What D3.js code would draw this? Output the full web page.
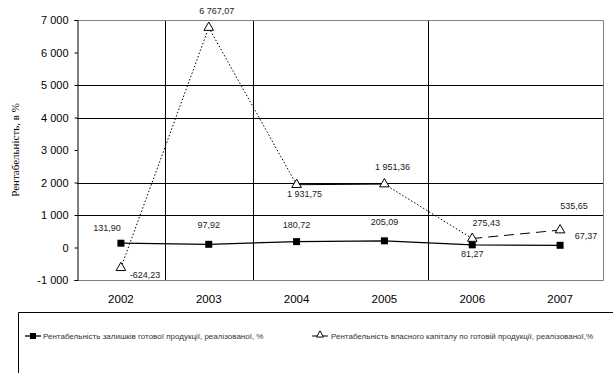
<!DOCTYPE html>
<html>
<head>
<meta charset="utf-8">
<script src="https://cdn.jsdelivr.net/npm/d3@7"></script>
<style>
  body { margin: 0; background: #fff; }
  text { font-family: "Liberation Sans", Arial, sans-serif; }
</style>
</head>
<body>
<div id="chart"></div>
<script>
// data
const years = ["2002", "2003", "2004", "2005", "2006", "2007"];
const sales = [131.90, 97.92, 180.72, 205.09, 81.27, 67.37];
const capital = [-624.23, 6767.07, 1931.75, 1951.36, 275.43, 535.65];
const salesLabels = ["131,90", "97,92", "180,72", "205,09", "81,27", "67,37"];
const capitalLabels = ["-624,23", "6 767,07", "1 931,75", "1 951,36", "275,43", "535,65"];
const yTicks = [-1000, 0, 1000, 2000, 3000, 4000, 5000, 6000, 7000];
const hGrid = [1000, 2000, 4000, 5000];
const seriesNames = [
  "Рентабельність залишків готової продукції, реалізованої, %",
  "Рентабельність власного капіталу по готовій продукції, реалізованої,%"
];

// label offsets (dx, dy from point)
const salesOff = [[-14, -12], [0, -16], [0, -14], [0, -16], [0, 12], [26, -6]];
const capOff = [[24, 10], [8, -14], [8, 12], [8, -14], [14, -13], [14, -21]];

const W = 613, H = 373;
const margin = {top: 20, right: 9, bottom: 93, left: 77};

const svg = d3.select("#chart").append("svg")
  .attr("width", W).attr("height", H);

const x = d3.scaleBand().domain(years).range([margin.left, W - margin.right]);
const y = d3.scaleLinear().domain([-1000, 7000]).range([H - margin.bottom, margin.top]);
const cx = d => x(d) + x.bandwidth() / 2;

// horizontal gridlines
svg.append("g").selectAll("line").data(hGrid).join("line")
  .attr("x1", margin.left).attr("x2", W - margin.right)
  .attr("y1", d => Math.round(y(d)) + 0.5).attr("y2", d => Math.round(y(d)) + 0.5)
  .attr("stroke", "#000").attr("stroke-width", 1);

// vertical gridlines (only some category borders are drawn)
const vGrid = [years[1], years[2], years[4]];
svg.append("g").selectAll("line").data(vGrid).join("line")
  .attr("x1", d => Math.round(x(d)) + 0.5).attr("x2", d => Math.round(x(d)) + 0.5)
  .attr("y1", y(7000)).attr("y2", y(-1000))
  .attr("stroke", "#000").attr("stroke-width", 1);

// plot border (gray top/right/bottom)
svg.append("path")
  .attr("d", `M${margin.left},${Math.round(y(7000)) + 0.5}H${W - margin.right - 0.5}V${Math.round(y(-1000)) + 0.5}H${margin.left}`)
  .attr("fill", "none").attr("stroke", "#808080");

// y axis
const yAxis = svg.append("g")
  .attr("transform", `translate(${margin.left + 0.5},0)`)
  .call(d3.axisLeft(y).tickValues(yTicks).tickSize(3)
    .tickFormat(d => d3.format(",")(d).replace(",", " ").replace("−", "-")));
yAxis.select(".domain").attr("stroke", "#000");
yAxis.selectAll("text").attr("font-size", 11).attr("fill", "#000").attr("x", -9);

// x axis labels
svg.append("g").selectAll("text").data(years).join("text")
  .attr("x", d => cx(d)).attr("y", H - margin.bottom + 23)
  .attr("text-anchor", "middle").attr("font-size", 11.5)
  .text(d => d);

// y axis title
svg.append("text")
  .attr("transform", `translate(19,${(margin.top + H - margin.bottom) / 2}) rotate(-90)`)
  .attr("text-anchor", "middle")
  .attr("font-size", 11)
  .style("font-family", "'Liberation Serif', 'DejaVu Serif', serif")
  .text("Рентабельність, в %");

// series 1: solid line with squares
const line1 = d3.line().x((d, i) => cx(years[i])).y(d => y(d));
svg.append("path").datum(sales)
  .attr("d", line1).attr("fill", "none").attr("stroke", "#000").attr("stroke-width", 1.3);
svg.append("g").selectAll("rect").data(sales).join("rect")
  .attr("x", (d, i) => cx(years[i]) - 3.5).attr("y", d => y(d) - 3.5)
  .attr("width", 7).attr("height", 7).attr("fill", "#000");

// series 2: dotted line with triangles, drawn segment by segment
const segDash = ["1.5,2", "1.5,2", null, "1.5,2", "10,6"];
const segs = d3.pairs(capital.map((v, i) => [cx(years[i]), y(v)]));
svg.append("g").selectAll("line").data(segs).join("line")
  .attr("x1", d => d[0][0]).attr("y1", d => d[0][1])
  .attr("x2", d => d[1][0]).attr("y2", d => d[1][1])
  .attr("stroke", "#000").attr("stroke-width", 1)
  .attr("stroke-dasharray", (d, i) => segDash[i]);
const tri = d3.symbol().type(d3.symbolTriangle).size(40);
svg.append("g").selectAll("path").data(capital).join("path")
  .attr("d", tri)
  .attr("transform", (d, i) => `translate(${cx(years[i])},${y(d)})`)
  .attr("fill", "#fff").attr("stroke", "#000").attr("stroke-width", 1);

// data labels
svg.append("g").selectAll("text").data(sales).join("text")
  .attr("x", (d, i) => cx(years[i]) + salesOff[i][0])
  .attr("y", (d, i) => y(d) + salesOff[i][1])
  .attr("text-anchor", "middle").attr("font-size", 9).attr("fill", "#222")
  .text((d, i) => salesLabels[i]);
svg.append("g").selectAll("text").data(capital).join("text")
  .attr("x", (d, i) => cx(years[i]) + capOff[i][0])
  .attr("y", (d, i) => y(d) + capOff[i][1])
  .attr("text-anchor", "middle").attr("font-size", 9).attr("fill", "#222")
  .text((d, i) => capitalLabels[i]);

// legend box
svg.append("path")
  .attr("d", `M18.5,${H}V312.5H${W}`)
  .attr("fill", "none").attr("stroke", "#000");

const leg = svg.append("g").attr("transform", "translate(0,336)");
// item 1
leg.append("line").attr("x1", 25).attr("x2", 41).attr("y1", 0).attr("y2", 0)
  .attr("stroke", "#000").attr("stroke-width", 1.3);
leg.append("rect").attr("x", 30).attr("y", -3).attr("width", 6).attr("height", 6).attr("fill", "#000");
leg.append("text").attr("x", 43).attr("y", 3).attr("font-size", 8).attr("fill", "#333")
  .text(seriesNames[0]);
// item 2
leg.append("line").attr("x1", 312).attr("x2", 328).attr("y1", 0).attr("y2", 0)
  .attr("stroke", "#000").attr("stroke-width", 1);
leg.append("path").attr("d", d3.symbol().type(d3.symbolTriangle).size(22))
  .attr("transform", "translate(320,-1)").attr("fill", "#fff").attr("stroke", "#000");
leg.append("text").attr("x", 331).attr("y", 3).attr("font-size", 8).attr("fill", "#333")
  .text(seriesNames[1]);
</script>
</body>
</html>
